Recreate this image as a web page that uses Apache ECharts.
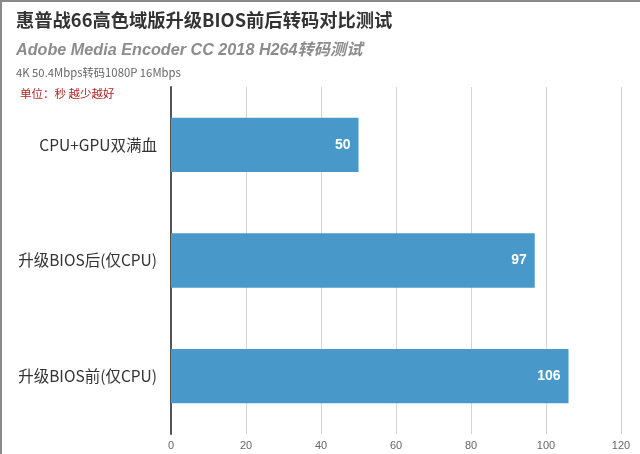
<!DOCTYPE html>
<html>
<head>
<meta charset="utf-8">
<script src="https://cdn.jsdelivr.net/npm/echarts@6/dist/echarts.min.js"></script>
<style>
html,body{margin:0;padding:0;background:#fff;}
#main{width:640px;height:454px;}
</style>
</head>
<body>
<div id="main"></div>
<script>
var categories = ['升级BIOS前(仅CPU)', '升级BIOS后(仅CPU)', 'CPU+GPU双满血'];
var values = [106, 97, 50];
var xTicks = [0, 20, 40, 60, 80, 100, 120];

var chart = echarts.init(document.getElementById('main'));
var fontCJK = '"Noto Sans CJK SC", "Noto Sans", sans-serif';
var fontLat = '"Liberation Sans", "Noto Sans CJK SC", sans-serif';
chart.setOption({
  backgroundColor: '#fff',
  animation: false,
  textStyle: {fontFamily: fontCJK},
  graphic: [
    {type: 'rect', left: 0, top: 0, shape: {width: 640, height: 2}, style: {fill: '#8a8a8a'}},
    {type: 'rect', left: 0, top: 0, shape: {width: 2, height: 454}, style: {fill: '#8a8a8a'}},
    {type: 'text', left: 16, top: 11, style: {text: '惠普战66高色域版升级BIOS前后转码对比测试', fontSize: 18.3, fontWeight: 'bold', fill: '#333', fontFamily: fontCJK}},
    {type: 'text', left: 16, top: 42, style: {text: 'Adobe Media Encoder CC 2018 H264转码测试', fontSize: 16.2, fontWeight: 'bold', fontStyle: 'italic', fill: '#8c8c8c', fontFamily: fontLat}},
    {type: 'text', left: 16, top: 67, style: {text: '4K 50.4Mbps转码1080P 16Mbps', fontSize: 11.3, fill: '#666', fontFamily: fontCJK}},
    {type: 'text', left: 20, top: 88, style: {text: '单位：秒 越少越好', fontSize: 11.5, fill: '#b22222', fontFamily: fontCJK}}
  ],
  grid: {left: 171, right: 19, top: 87, bottom: 20, containLabel: false},
  xAxis: {
    type: 'value', min: 0, max: 120, interval: 20,
    axisLine: {show: false},
    axisTick: {show: false},
    splitLine: {show: true, lineStyle: {color: '#d4d4d4', width: 1}},
    axisLabel: {color: '#666', fontSize: 11, margin: 6, fontFamily: '"Liberation Sans", Arial, sans-serif',
      formatter: function (v) { return xTicks.indexOf(v) >= 0 ? String(v) : ''; }}
  },
  yAxis: {
    type: 'category', data: categories,
    axisLine: {show: true, lineStyle: {color: '#555', width: 2}},
    axisTick: {show: false},
    axisLabel: {color: '#333', fontSize: 15.5, margin: 14, fontFamily: fontCJK}
  },
  series: [{
    type: 'bar', data: values, barWidth: '47%',
    itemStyle: {color: '#4899c9'},
    label: {show: true, position: 'insideRight', color: '#fff', fontWeight: 'bold', fontSize: 14, distance: 8,
      fontFamily: '"Liberation Sans", Arial, sans-serif'}
  }]
});
</script>
</body>
</html>
